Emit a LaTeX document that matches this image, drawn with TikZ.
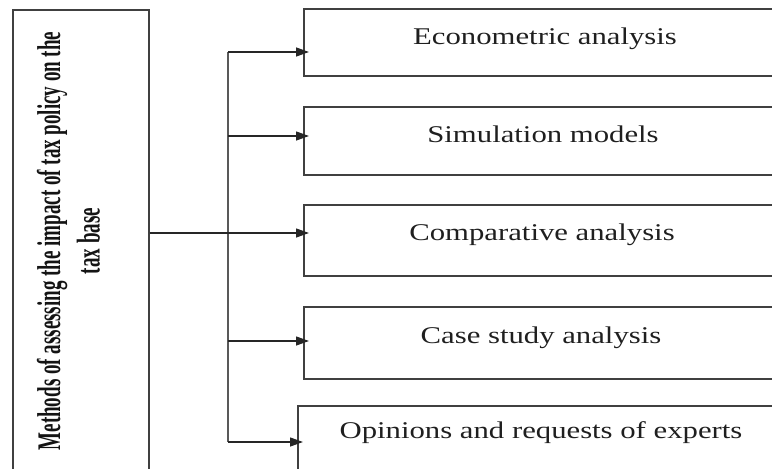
\documentclass[tikz,border=0pt]{standalone}
\usepackage{fontspec}
\setmainfont{Liberation Serif}
\newfontfamily\widefont[FakeStretch=1.28]{Liberation Serif}
\newfontfamily\narrowfont[FakeStretch=0.576]{Liberation Serif Bold}
\usetikzlibrary{arrows.meta}
\begin{document}
\begin{tikzpicture}[x=1pt,y=-1pt,
  boxline/.style={draw=black!75,line width=1.6pt},
  mbox/.style={boxline,rectangle,anchor=north west,inner sep=0pt,minimum width=478pt},
  mtext/.style={anchor=base,inner sep=0pt,text=black!88,font=\widefont\fontsize{24}{28}\selectfont},
  arr/.style={draw=black!85,line width=1.3pt,-{Triangle[length=13pt,width=9pt]},shorten >=-6pt},
  busline/.style={draw=black!65,line width=1.8pt}]
\useasboundingbox (0,0) rectangle (772,469);
\clip (0,0) rectangle (772,469);
% left box
\node[boxline,rectangle,anchor=north west,inner sep=0pt,minimum width=136pt,minimum height=480pt] (m) at (12,9) {};
\node[rotate=90,inner sep=0pt,align=center,text=black!92,
  font=\narrowfont\fontsize{33}{39.5}\selectfont] (mt) at (68.5,241)
  {Methods of assessing the impact of tax policy on the\\tax base};
% right boxes
\node[mbox,minimum height=67pt] (b1) at (303,8) {};
\node[mbox,minimum height=68pt] (b2) at (303,106) {};
\node[mbox,minimum height=71pt] (b3) at (303,204) {};
\node[mbox,minimum height=72pt] (b4) at (303,306) {};
\node[mbox,minimum height=80pt,minimum width=488pt] (b5) at (297,405) {};
% texts
\node[mtext] (t1) at (545,44) {Econometric analysis};
\node[mtext] (t2) at (543,142) {Simulation models};
\node[mtext] (t3) at (542,240) {Comparative analysis};
\node[mtext] (t4) at (541,343) {Case study analysis};
\node[mtext] (t5) at (541,438) {Opinions and requests of experts};
% bus
\coordinate (c1) at (228,52);
\coordinate (c2) at (228,136);
\coordinate (c3) at (228,233);
\coordinate (c4) at (228,341);
\coordinate (c5) at (228,442);
\draw[busline] (c1) -- (c5);
\draw[arr] (c1) -- (c1 -| b1.west);
\draw[arr] (c2) -- (c2 -| b2.west);
\draw[arr] (m.east |- c3) -- (c3 -| b3.west);
\draw[arr] (c4) -- (c4 -| b4.west);
\draw[arr] (c5) -- (c5 -| b5.west);
\end{tikzpicture}
\end{document}
